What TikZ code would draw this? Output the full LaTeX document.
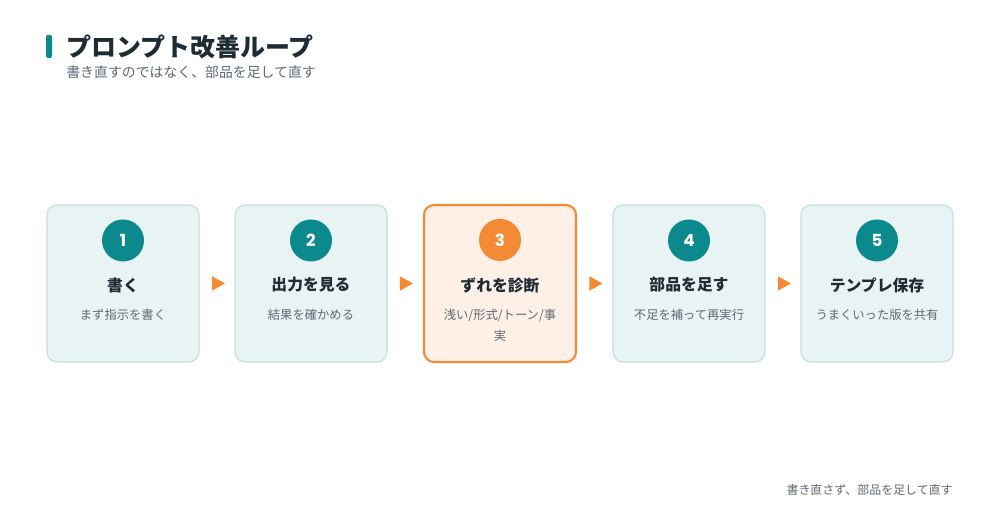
\documentclass[tikz,border=0pt]{standalone}
\usepackage{fontspec}
\setmainfont{Noto Sans CJK JP}
\newfontfamily\numfont{Poppins}
\usetikzlibrary{shapes.geometric,positioning}
\definecolor{tealmain}{HTML}{0B898D}
\definecolor{orangemain}{HTML}{F58A35}
\definecolor{cardfill}{HTML}{E8F4F4}
\definecolor{cardline}{HTML}{C5DEDD}
\definecolor{hotfill}{HTML}{FEF0E6}
\definecolor{inkdark}{HTML}{1F2C34}
\definecolor{inkgray}{HTML}{5E6A72}
\tikzset{
  >=latex,
}
\tikzstyle{plaincard}=[draw=cardline,fill=cardfill,line width=0.6pt,rounded corners=0.2cm,
  minimum width=3.04cm,minimum height=3.14cm]
\tikzstyle{hotcard}=[plaincard,draw=orangemain,fill=hotfill,line width=1.2pt]
\tikzstyle{plainbadge}=[circle,fill=tealmain,minimum size=0.84cm,inner sep=0pt,text=white,
  font=\numfont\bfseries\fontsize{9.5}{10}\selectfont]
\tikzstyle{hotbadge}=[plainbadge,fill=orangemain]
\tikzstyle{cardtitle}=[text=inkdark,font=\bfseries\fontsize{9}{11}\selectfont]
\tikzstyle{cardnote}=[text=inkgray,font=\fontsize{7}{11.9}\selectfont,align=center,anchor=north]
\tikzstyle{pointer}=[isosceles triangle,isosceles triangle stretches,fill=orangemain,
  minimum height=0.26cm,minimum width=0.29cm,inner sep=0pt]

\begin{document}
\begin{tikzpicture}
        \useasboundingbox[fill=white] (0,0) rectangle (20,-10.46);
        % header
        \fill[tealmain,rounded corners=0.03cm] (0.92,-0.70) rectangle (1.04,-1.16);
        \node[anchor=west,inner sep=0pt,text=inkdark,font=\bfseries\fontsize{14.2}{16}\selectfont]
          (title) at (1.32,-0.93) {プロンプト改善ループ};
        \node[anchor=west,inner sep=0pt,text=inkgray,font=\fontsize{7.9}{9}\selectfont]
          (subtitle) at (1.32,-1.44) {書き直すのではなく、部品を足して直す};
        % steps
        \foreach \i/\kind/\x/\head/\note in {
            1/plain/2.46/書く/まず指示を書く,
            2/plain/6.22/出力を見る/結果を確かめる,
            3/hot/10.00/ずれを診断/{浅い/形式/トーン/事\\実},
            4/plain/13.78/部品を足す/不足を補って再実行,
            5/plain/17.54/テンプレ保存/うまくいった版を共有}{
          \node[\kind card] (b\i) at (\x,-5.67) {};
          \node[\kind badge] (n\i) at ([yshift=-0.72cm]b\i.north) {\i};
          \node[cardtitle] (t\i) at ([yshift=-0.03cm]b\i.center) {\head};
          \node[cardnote] (s\i) at ([yshift=-0.39cm]b\i.center) {\note};
        }
        \foreach \i in {1,...,4}
          \node[pointer,right=0.24cm of b\i] (p\i) {};
        % footer
        \node[anchor=east,inner sep=0pt,text=inkgray,font=\fontsize{6.8}{8}\selectfont]
          (footer) at (19.06,-9.80) {書き直さず、部品を足して直す};
      \end{tikzpicture}
\end{document}
